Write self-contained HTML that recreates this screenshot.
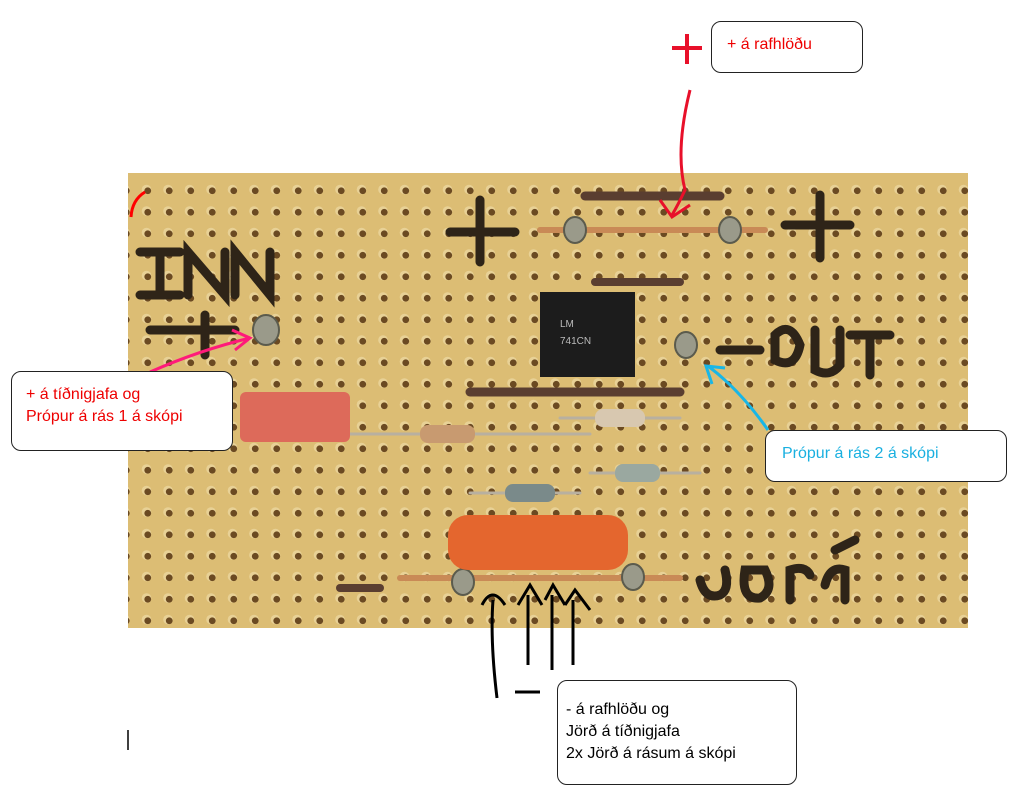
<!DOCTYPE html>
<html><head><meta charset="utf-8"><style>
body{margin:0;width:1018px;height:802px;background:#fff;position:relative;overflow:hidden;font-family:"Liberation Sans","DejaVu Sans",sans-serif}
.box{position:absolute;border:1px solid #222;border-radius:10px;background:#fff;font-size:16px;line-height:22px;box-sizing:border-box}
</style></head><body>
<svg width="1018" height="802" style="position:absolute;left:0;top:0">
<defs>
<pattern id="h" x="137" y="180" width="21.5" height="21.5" patternUnits="userSpaceOnUse">
<circle cx="9.5" cy="9.5" r="4.8" fill="#f4e6b8" opacity=".5"/>
<circle cx="10.75" cy="10.75" r="3.4" fill="#6b4a22"/>
</pattern>
</defs>
<rect x="128" y="173" width="840" height="455" fill="#dcbd74"/>
<rect x="128" y="173" width="840" height="455" fill="url(#h)"/>
<g stroke="#2e2418" stroke-width="9" stroke-linecap="round" fill="none">
<path d="M140 252 H180 M160 252 V295 M140 295 H180"/>
<path d="M188 295 V252 L225 295 V252"/>
<path d="M235 295 V252 L270 295 V252"/>
<path d="M150 330 H235 M205 315 V355"/>
<path d="M450 232 H515 M480 200 V262"/>
<path d="M785 225 H850 M820 195 V258"/>
<path d="M720 350 H760"/>
<path d="M775 335 Q790 320 800 345 Q795 370 775 360 Z"/>
<path d="M815 330 V370 Q830 378 840 365 V330"/>
<path d="M850 335 H890 M870 335 V375"/>
<path d="M700 580 Q705 600 720 595 Q730 590 725 570"/>
<path d="M745 570 Q740 600 760 598 Q775 590 765 570 Z"/>
<path d="M790 600 V570 Q805 565 810 575"/>
<path d="M825 585 Q830 565 845 570 V600 M835 550 L855 540"/>
</g>
<g stroke-linecap="round">
<line x1="340" y1="588" x2="380" y2="588" stroke="#5a3e30" stroke-width="8"/>
<line x1="585" y1="196" x2="720" y2="196" stroke="#5a3e30" stroke-width="9"/>
<line x1="595" y1="282" x2="680" y2="282" stroke="#5a3e30" stroke-width="8"/>
<line x1="470" y1="392" x2="680" y2="392" stroke="#5a3e30" stroke-width="9"/>
<line x1="540" y1="230" x2="765" y2="230" stroke="#c98a56" stroke-width="6"/>
<line x1="340" y1="434" x2="590" y2="434" stroke="#b8b0a0" stroke-width="3"/>
<line x1="560" y1="418" x2="680" y2="418" stroke="#b8b0a0" stroke-width="3"/>
<line x1="590" y1="473" x2="700" y2="473" stroke="#b8b0a0" stroke-width="3"/>
<line x1="470" y1="493" x2="580" y2="493" stroke="#b8b0a0" stroke-width="3"/>
<line x1="400" y1="578" x2="680" y2="578" stroke="#c98a56" stroke-width="6"/>
</g>
<g fill="#9a9a8a" stroke="#5b5b4d" stroke-width="2">
<ellipse cx="575" cy="230" rx="11" ry="13"/><ellipse cx="730" cy="230" rx="11" ry="13"/>
<ellipse cx="266" cy="330" rx="13" ry="15"/><ellipse cx="686" cy="345" rx="11" ry="13"/>
<ellipse cx="463" cy="582" rx="11" ry="13"/><ellipse cx="633" cy="577" rx="11" ry="13"/>
</g>
<rect x="420" y="425" width="55" height="18" rx="8" fill="#c89a70"/>
<rect x="595" y="409" width="50" height="18" rx="8" fill="#d8c8b0"/>
<rect x="615" y="464" width="45" height="18" rx="8" fill="#9aa8a0"/>
<rect x="505" y="484" width="50" height="18" rx="8" fill="#7a8a8a"/>
<rect x="540" y="292" width="95" height="85" fill="#1c1c1c"/>
<text x="560" y="327" font-size="10" fill="#bbb">LM</text>
<text x="560" y="344" font-size="10" fill="#bbb">741CN</text>
<rect x="240" y="392" width="110" height="50" rx="6" fill="#dd6a5a"/>
<rect x="448" y="515" width="180" height="55" rx="20" fill="#e4662e"/>
<path d="M131 217 Q132 200 145 192" stroke="#f00" stroke-width="3" fill="none"/>
<path d="M690 90 Q675 150 685 190 Q678 205 672 215 M660 200 L672 217 L690 205" stroke="#e8102a" stroke-width="3" fill="none"/>
<path d="M672 48 H702 M687 34 V64" stroke="#e8102a" stroke-width="4"/>
<path d="M150 372 Q200 350 250 338 M232 330 L250 338 L235 350" stroke="#ff1a7a" stroke-width="3" fill="none"/>
<path d="M768 430 Q740 390 708 366 M712 384 L706 366 L725 368" stroke="#19b6e6" stroke-width="3" fill="none"/>
<g stroke="#000" stroke-width="3" fill="none">
<path d="M497 698 Q490 640 493 600 M482 605 Q492 585 505 605"/>
<path d="M528 665 V595 M518 605 L530 585 L542 605"/>
<path d="M552 670 V595 M545 600 L553 585 L565 605"/>
<path d="M573 665 V600 M565 605 L575 590 L590 610"/>
<path d="M515 692 H540"/>
<path d="M128 730 V750" stroke-width="1.5"/>
</g>
</svg>
<div class="box" style="left:711px;top:21px;width:152px;height:52px;padding:12px 0 0 15px;color:#e00">+ á rafhlöðu</div>
<div class="box" style="left:11px;top:371px;width:222px;height:80px;padding:12px 0 0 14px;color:#e00">+ á tíðnigjafa og<br>Própur á rás 1 á skópi</div>
<div class="box" style="left:765px;top:430px;width:242px;height:52px;padding:12px 0 0 16px;color:#1ab0e0">Própur á rás 2 á skópi</div>
<div class="box" style="left:557px;top:680px;width:240px;height:105px;padding:18px 0 0 8px;color:#000">- á rafhlöðu og<br>Jörð á tíðnigjafa<br>2x Jörð á rásum á skópi</div>
</body></html>
